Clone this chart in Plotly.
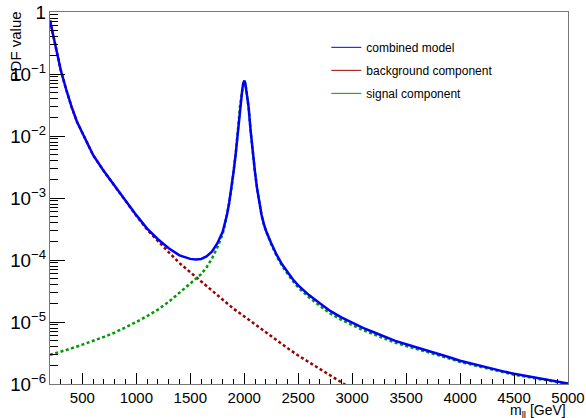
import plotly.graph_objects as go

# ---- data ----
mass_bkg = [200, 225, 250, 275, 300, 350, 400, 450, 500, 600, 700, 800, 900, 1000,
            1100, 1200, 1300, 1400, 1500, 1550, 1600, 1650, 1700, 1750, 1800, 1900,
            2000, 2100, 2200, 2300, 2400, 2500, 2600, 2700, 2800, 2900, 3000]
pdf_bkg = [0.73, 0.447, 0.269, 0.174, 0.115, 0.0562, 0.0295, 0.0170, 0.0110, 0.00490,
           0.00269, 0.00155, 8.71e-4, 5.19e-4, 3.09e-4, 2.00e-4, 1.334e-4, 8.91e-5,
           6.31e-5, 5.37e-5, 4.52e-5, 3.80e-5, 3.16e-5, 2.66e-5, 2.24e-5, 1.64e-5,
           1.23e-5, 9.12e-6, 6.68e-6, 5.01e-6, 3.80e-6, 2.88e-6, 2.24e-6, 1.76e-6,
           1.38e-6, 1.06e-6, 8.3e-7]

mass_sig = [200, 300, 400, 500, 600, 700, 800, 900, 1000, 1100, 1200, 1300, 1400, 1500,
            1550, 1600, 1650, 1700, 1750, 1800, 1820, 1840, 1860, 1880, 1900, 1920, 1940,
            1960, 1980, 1990, 2000, 2010, 2020, 2040, 2060, 2080, 2100, 2120, 2140, 2160,
            2180, 2200, 2250, 2300, 2350, 2400, 2450, 2500, 2600, 2700, 2800, 2900, 3000,
            3100, 3200, 3300, 3400, 3500, 3600, 3700, 3800, 3900, 4000, 4200, 4400, 4500,
            4600, 4800, 5000]
pdf_sig = [2.95e-6, 3.31e-6, 3.76e-6, 4.31e-6, 4.95e-6, 5.75e-6, 6.76e-6, 8.13e-6, 1.00e-5,
           1.245e-5, 1.585e-5, 2.11e-5, 2.95e-5, 4.12e-5, 4.84e-5, 5.89e-5, 7.59e-5, 1.047e-4,
           1.585e-4, 2.63e-4, 3.68e-4, 5.17e-4, 8.13e-4, 1.363e-3, 2.554e-3, 4.99e-3, 0.01173,
           0.0295, 0.0525, 0.0708, 0.078, 0.0708, 0.0525, 0.0295, 0.01174, 5.00e-3, 2.561e-3,
           1.371e-3, 8.23e-4, 5.30e-4, 3.82e-4, 2.95e-4, 1.80e-4, 1.166e-4, 8.07e-5, 5.93e-5,
           4.57e-5, 3.60e-5, 2.50e-5, 1.824e-5, 1.358e-5, 1.083e-5, 8.94e-6, 7.39e-6, 6.33e-6,
           5.35e-6, 4.63e-6, 4.11e-6, 3.68e-6, 3.26e-6, 2.91e-6, 2.58e-6, 2.27e-6, 1.86e-6,
           1.55e-6, 1.415e-6, 1.32e-6, 1.145e-6, 1.0e-6]

mass_comb = [200, 225, 250, 275, 300, 350, 400, 450, 500, 600, 700, 800, 900, 1000, 1100,
             1200, 1300, 1400, 1500, 1550, 1600, 1650, 1700, 1750, 1800, 1820, 1840, 1860,
             1880, 1900, 1920, 1940, 1960, 1980, 1990, 2000, 2010, 2020, 2040, 2060, 2080,
             2100, 2120, 2140, 2160, 2180, 2200, 2250, 2300, 2350, 2400, 2450, 2500, 2600,
             2700, 2800, 2900, 3000, 3100, 3200, 3300, 3400, 3500, 3600, 3700, 3800, 3900,
             4000, 4200, 4400, 4500, 4600, 4800, 5000]
pdf_comb = [0.73, 0.447, 0.269, 0.174, 0.115, 0.0562, 0.0295, 0.0170, 0.0110, 0.00490,
            0.00270, 0.001556, 8.79e-4, 5.29e-4, 3.215e-4, 2.16e-4, 1.545e-4, 1.186e-4,
            1.043e-4, 1.021e-4, 1.041e-4, 1.139e-4, 1.363e-4, 1.851e-4, 2.854e-4, 3.89e-4,
            5.37e-4, 8.32e-4, 1.38e-3, 2.57e-3, 5.01e-3, 0.01175, 0.0295, 0.0525, 0.0708,
            0.078, 0.0708, 0.0525, 0.0295, 0.01175, 5.01e-3, 2.57e-3, 1.38e-3, 8.32e-4,
            5.37e-4, 3.89e-4, 3.02e-4, 1.86e-4, 1.216e-4, 8.51e-5, 6.31e-5, 4.90e-5, 3.89e-5,
            2.72e-5, 2.00e-5, 1.496e-5, 1.189e-5, 9.77e-6, 8.04e-6, 6.84e-6, 5.75e-6, 4.95e-6,
            4.37e-6, 3.89e-6, 3.43e-6, 3.05e-6, 2.70e-6, 2.37e-6, 1.93e-6, 1.60e-6, 1.46e-6,
            1.36e-6, 1.175e-6, 1.02e-6]

legend_names = ["combined model", "background component", "signal component"]
x_ticks = [500, 1000, 1500, 2000, 2500, 3000, 3500, 4000, 4500, 5000]

FONT = "Liberation Sans, Arial, sans-serif"
C_COMB, C_BKG, C_SIG = "#0000ff", "#990000", "#009900"

fig = go.Figure()

# legend-only entries (thin solid lines, as in the reference legend)
for name, col in zip(legend_names, [C_COMB, C_BKG, C_SIG]):
    fig.add_trace(go.Scatter(x=[None], y=[None], mode="lines", name=name,
                             legendgroup=name, line=dict(color=col, width=1)))

fig.add_trace(go.Scatter(x=mass_bkg, y=pdf_bkg, mode="lines", showlegend=False,
                         line=dict(color=C_BKG, width=2.5, dash="3px,2.5px")))
fig.add_trace(go.Scatter(x=mass_sig, y=pdf_sig, mode="lines", showlegend=False,
                         line=dict(color=C_SIG, width=2.5, dash="3px,2.5px")))
fig.add_trace(go.Scatter(x=mass_comb, y=pdf_comb, mode="lines", showlegend=False,
                         line=dict(color=C_COMB, width=2.5)))

fig.update_layout(
    width=586, height=418,
    margin=dict(l=50, r=17.5, t=11.5, b=34, pad=0, autoexpand=False),
    paper_bgcolor="white", plot_bgcolor="white",
    font=dict(family=FONT, color="black"),
    showlegend=True,
    legend=dict(x=0.5335, y=0.944, xanchor="left", yanchor="top",
                bgcolor="rgba(0,0,0,0)", borderwidth=0,
                font=dict(family=FONT, size=12, color="black"),
                traceorder="grouped", tracegroupgap=4),
    xaxis=dict(range=[200, 5000], tickvals=x_ticks, ticks="inside", ticklen=11,
               tickcolor="black", tickwidth=1, showline=True, linecolor="#777777",
               linewidth=1, mirror=True, showgrid=False, zeroline=False, automargin=False,
               tickfont=dict(family=FONT, size=15, color="black"),
               minor=dict(dtick=100, tick0=0, ticks="inside", ticklen=5.5,
                          tickcolor="black", showgrid=False)),
    yaxis=dict(type="log", range=[-6, 0], dtick=1, exponentformat="power",
               ticks="inside", ticklen=15, tickcolor="black", tickwidth=1,
               showline=True, linecolor="#777777", linewidth=1, mirror=True,
               showgrid=False, zeroline=False, automargin=False,
               tickfont=dict(family=FONT, size=15, color="black"),
               minor=dict(dtick="D1", ticks="inside", ticklen=8, tickcolor="black",
                          showgrid=False)),
    annotations=[
        dict(text="PDF value", textangle=-90, xref="paper", yref="paper",
             x=0, y=0.9074, xanchor="center", yanchor="middle", xshift=-35,
             showarrow=False, font=dict(family=FONT, size=15, color="black")),
        dict(text="m<sub>ll</sub> [GeV]", xref="paper", yref="paper",
             x=1, y=0, xanchor="right", yanchor="middle", yshift=-27, xshift=0,
             showarrow=False, font=dict(family=FONT, size=14, color="black")),
    ],
)

fig.write_html("out.html",
               config={"displayModeBar": False},
               post_script="document.body.style.margin='0px';"
                           "document.body.style.overflow='hidden';")
